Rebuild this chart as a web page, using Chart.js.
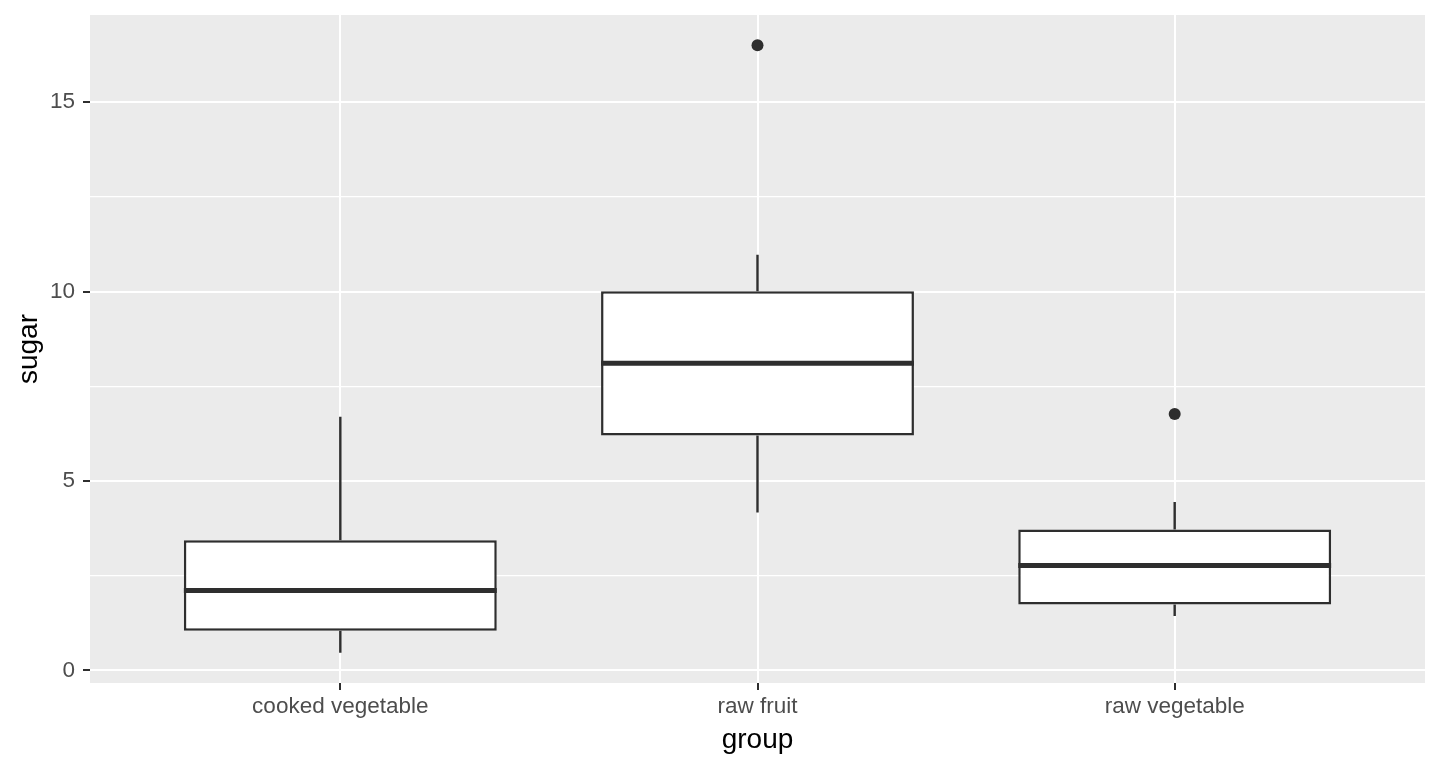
<!DOCTYPE html>
<html>
<head>
<meta charset="utf-8">
<script src="https://cdn.jsdelivr.net/npm/chart.js@4.4.0/dist/chart.umd.min.js"></script>
<style>
  html, body { margin: 0; padding: 0; background: #fff; }
  #wrap { width: 1440px; height: 768px; position: relative; }
</style>
</head>
<body>
<div id="wrap"><canvas id="myChart"></canvas></div>
<script>
// ---- data ----
var groups = ['cooked vegetable', 'raw fruit', 'raw vegetable'];
var whiskerLow = [0.47, 4.17, 1.44];
var q1 = [1.05, 6.20, 1.74];
var median = [2.11, 8.11, 2.77];
var q3 = [3.44, 10.01, 3.72];
var whiskerHigh = [6.70, 10.97, 4.45];
var outlierGroups = ['raw fruit', 'raw vegetable'];
var outlierValues = [16.5, 6.77];
var yMajorTicks = [0, 5, 10, 15];
var yMinorTicks = [2.5, 7.5, 12.5];

var boxWidth = 0.75;
var fontFamily = '"Liberation Sans", Arial, Helvetica, sans-serif';
var ink = '#2e2e2e';

// grey panel behind the grid
var panelBg = {
  id: 'panelBg',
  beforeDraw: function (chart) {
    var a = chart.chartArea, ctx = chart.ctx;
    ctx.save();
    ctx.fillStyle = '#EBEBEB';
    ctx.fillRect(a.left, a.top, a.right - a.left, a.bottom - a.top);
    ctx.restore();
  }
};

var boxData = groups.map(function (g, i) {
  return { x: i + 1, y: [q1[i], q3[i]] };
});

var medianData = [];
var whiskerData = [];
groups.forEach(function (g, i) {
  var x = i + 1;
  medianData.push({ x: x - boxWidth / 2, y: median[i] }, { x: x + boxWidth / 2, y: median[i] }, { x: x, y: null });
  whiskerData.push({ x: x, y: whiskerHigh[i] }, { x: x, y: q3[i] }, { x: x, y: null });
  whiskerData.push({ x: x, y: q1[i] }, { x: x, y: whiskerLow[i] }, { x: x, y: null });
});

var outlierData = outlierGroups.map(function (g, i) {
  return { x: groups.indexOf(g) + 1, y: outlierValues[i] };
});

function isMajor(v) { return yMajorTicks.indexOf(v) >= 0; }

var ctx = document.getElementById('myChart').getContext('2d');
var myChart = new Chart(ctx, {
  type: 'bar',
  data: {
    datasets: [
      {
        type: 'bar',
        data: boxData,
        backgroundColor: '#ffffff',
        borderColor: ink,
        borderWidth: 2.5,
        borderSkipped: false,
        categoryPercentage: 1,
        barPercentage: boxWidth,
        order: 4
      },
      {
        type: 'line',
        data: whiskerData,
        borderColor: ink,
        borderWidth: 2.4,
        pointRadius: 0,
        spanGaps: false,
        fill: false,
        order: 3
      },
      {
        type: 'line',
        data: medianData,
        borderColor: ink,
        borderWidth: 5,
        pointRadius: 0,
        spanGaps: false,
        fill: false,
        order: 2
      },
      {
        type: 'scatter',
        data: outlierData,
        backgroundColor: ink,
        borderWidth: 0,
        pointRadius: 6,
        order: 1
      }
    ]
  },
  options: {
    responsive: true,
    maintainAspectRatio: false,
    animation: false,
    devicePixelRatio: 1,
    layout: { padding: { left: 0, top: 15, right: 15, bottom: 0 } },
    plugins: {
      legend: { display: false },
      tooltip: { enabled: false }
    },
    scales: {
      x: {
        type: 'linear',
        min: 0.4,
        max: 3.6,
        offset: false,
        afterBuildTicks: function (s) {
          s.ticks = groups.map(function (g, i) { return { value: i + 1 }; });
        },
        afterFit: function (s) {
          s.height = 85;
          s.paddingLeft = 0;
          s.paddingRight = 0;
        },
        ticks: {
          callback: function (v) { return groups[v - 1]; },
          color: '#4D4D4D',
          font: { family: fontFamily, size: 22.5 },
          padding: 3,
          autoSkip: false,
          maxRotation: 0
        },
        grid: {
          color: '#ffffff',
          lineWidth: 2,
          offset: false,
          drawTicks: true,
          tickLength: 7,
          tickColor: ink,
          tickWidth: 2
        },
        border: { display: false },
        title: {
          display: true,
          text: 'group',
          color: '#000000',
          font: { family: fontFamily, size: 28 },
          padding: { top: 0, bottom: 11 }
        }
      },
      y: {
        type: 'linear',
        min: -0.33,
        max: 17.3,
        afterBuildTicks: function (s) {
          s.ticks = yMajorTicks.concat(yMinorTicks)
            .sort(function (a, b) { return a - b; })
            .map(function (v) { return { value: v }; });
        },
        afterFit: function (s) {
          s.width = 90;
          s.paddingTop = 0;
          s.paddingBottom = 0;
        },
        ticks: {
          callback: function (v) { return isMajor(v) ? String(v) : ''; },
          color: '#4D4D4D',
          font: { family: fontFamily, size: 22.5 },
          padding: 8
        },
        grid: {
          color: '#ffffff',
          lineWidth: function (c) { return isMajor(c.tick.value) ? 2 : 1.2; },
          drawTicks: true,
          tickLength: 7,
          tickColor: function (c) { return isMajor(c.tick.value) ? ink : 'rgba(0,0,0,0)'; },
          tickWidth: 2
        },
        border: { display: false },
        title: {
          display: true,
          text: 'sugar',
          color: '#000000',
          font: { family: fontFamily, size: 28 },
          padding: { top: 12, bottom: 0 }
        }
      }
    }
  },
  plugins: [panelBg]
});
</script>
</body>
</html>
